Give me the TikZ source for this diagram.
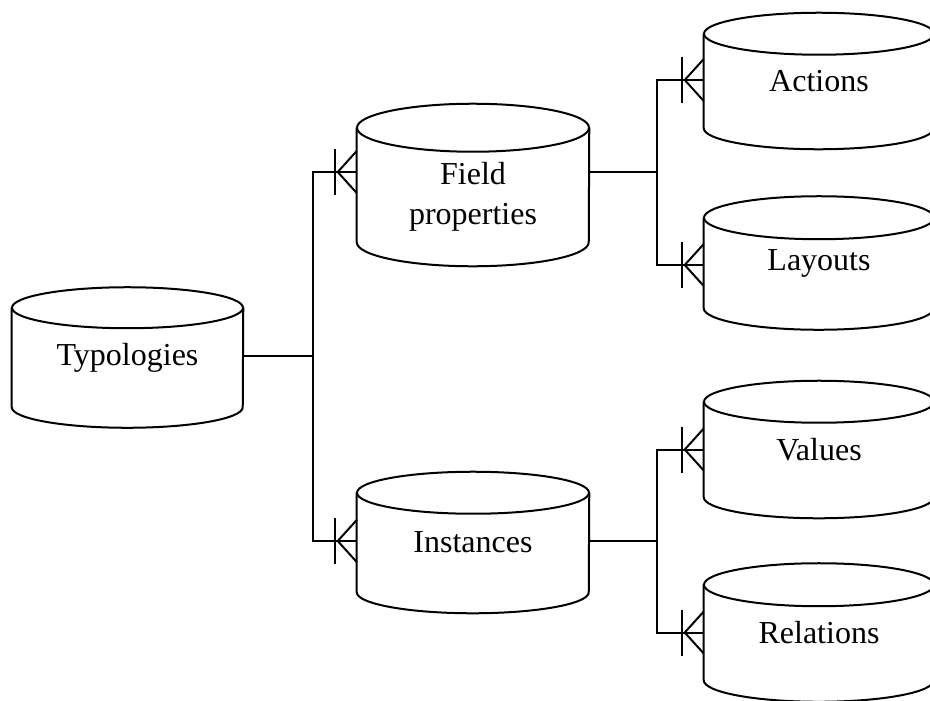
\documentclass[tikz,border=0pt]{standalone}
\usepackage{fontspec}
\setmainfont{Liberation Serif}
\usetikzlibrary{calc}
\tikzset{
  line/.style={line width=1.5pt, black},
  body/.style={draw=none, inner sep=0pt, align=center, font=\fontsize{24}{30}\selectfont},
  txt/.style={inner sep=0pt, align=center, font=\fontsize{24}{30}\selectfont},
}
% name, cx, ytop, ybot, rx, ry, text
\newcommand\mycyl[7]{%
  \node[body, minimum width={#5*1.5pt}, minimum height={(#4-#3)*0.75pt}] (#1) at (#2,{(#3+#4)/2}) {#7};
  \draw[line] (#1.north west) -- (#1.south west) arc[start angle=180,end angle=0,x radius=#5,y radius=#6] -- (#1.north east);
  \draw[line] (#1.north) ellipse[x radius=#5,y radius=#6];
}
% crow's foot ending at the given point (entering from the left)
\newcommand\mycrow[1]{%
  \draw[line] #1 ++(-19,0) -- ++(19,-21);
  \draw[line] #1 ++(-19,0) -- ++(19,21);
  \draw[line] #1 ++(-22,-23) -- ++(0,46);
}
\begin{document}
\begin{tikzpicture}[x=0.75pt,y=-0.75pt]
\useasboundingbox (0,0) rectangle (930,700);
\clip (0,0) rectangle (930,700);
\fill[white] (0,0) rectangle (930,700);

\mycyl{typ}{127.5}{308}{407}{115.5}{20.5}{Typologies}
\mycyl{fp}{473}{128}{242}{116}{24}{}
\node[txt] (fptxt) at (473,197) {Field\\properties};
\mycyl{inst}{473}{493}{592}{116}{21}{Instances}
\mycyl{act}{819}{34}{128}{115}{21}{Actions}
\mycyl{lay}{819}{218}{308}{115}{21.5}{Layouts}
\mycyl{val}{819}{402}{497}{115}{21}{Values}
\mycyl{rel}{819}{585}{680}{115}{21.5}{Relations}

% junctions
\coordinate (j1) at (313,355.5);
\coordinate (j2) at (657,172);
\coordinate (j3) at (657,541);

% Typologies -> Field properties / Instances
\draw[line] ($(typ.east)+(0,-2)$) -- (j1);
\draw[line] (j1) |- ($(fp.west)+(0,-13)$);
\draw[line] (j1) |- ($(inst.west)+(0,-1.5)$);
\mycrow{($(fp.west)+(0,-13)$)}
\mycrow{($(inst.west)+(0,-1.5)$)}

% Field properties -> Actions / Layouts
\draw[line] ($(fp.east)+(0,-13)$) -- (j2);
\draw[line] (j2) |- ($(act.west)+(0,-1)$);
\draw[line] (j2) |- ($(lay.west)+(0,2)$);
\mycrow{($(act.west)+(0,-1)$)}
\mycrow{($(lay.west)+(0,2)$)}

% Instances -> Values / Relations
\draw[line] ($(inst.east)+(0,-1.5)$) -- (j3);
\draw[line] (j3) |- (val.west);
\draw[line] (j3) |- (rel.west);
\mycrow{(val.west)}
\mycrow{(rel.west)}
\end{tikzpicture}
\end{document}
